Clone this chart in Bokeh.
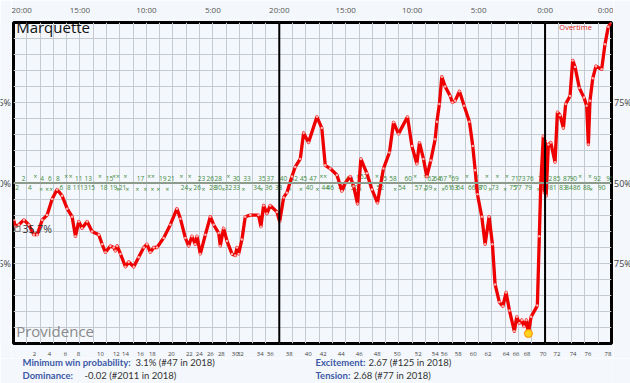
from bokeh.plotting import figure
from bokeh.models import (Range1d, LinearAxis, FixedTicker, Span, Label, ColumnDataSource)
from bokeh.layouts import column, row
from bokeh.core.properties import value
from bokeh.embed import file_html
from bokeh.resources import INLINE

# ---- data: game minute elapsed (0-45, OT after 40) and Marquette win probability (%)
t = [0.0, 0.15, 0.4, 0.78, 1.15, 1.53, 1.78, 2.16, 2.53, 2.91, 3.28, 3.66, 4.04, 4.41, 4.66,
     4.91, 5.16, 5.54, 5.91, 6.42, 6.67, 6.92, 7.29, 7.54, 7.67, 7.8, 8.05, 8.42, 8.67, 9.05,
     9.42, 9.8, 10.05, 10.3, 10.55, 10.8, 11.3, 11.8, 12.3, 12.56, 12.93, 13.18, 13.43, 13.68,
     13.81, 14.06, 14.44, 14.81, 15.06, 15.44, 15.56, 15.81, 16.07, 16.44, 16.69, 16.82, 16.94,
     17.19, 17.44, 17.82, 18.44, 18.62, 18.82, 19.07, 19.32, 19.82, 20.03, 20.33, 20.57, 20.95,
     21.2, 21.58, 21.83, 22.2, 22.83, 23.2, 23.46, 23.83, 24.34, 24.71, 24.96, 25.34, 25.59,
     25.89, 26.14, 26.59, 26.97, 27.39, 27.84, 28.29, 28.6, 28.97, 29.65, 29.98, 30.35, 30.55,
     30.85, 31.1, 31.4, 31.73, 31.86, 32.05, 32.23, 32.48, 32.86, 33.03, 33.23, 33.56, 33.91,
     34.31, 34.56, 34.74, 34.91, 35.24, 35.49, 35.79, 36.04, 36.24, 36.56, 36.82, 37.07, 37.32,
     37.69, 37.87, 38.07, 38.25, 38.42, 38.6, 38.75, 38.95, 39.42, 39.57, 39.68, 39.87, 39.95,
     40.02, 40.08, 40.25, 40.43, 40.75, 40.93, 41.13, 41.38, 41.55, 41.88, 42.08, 42.26, 42.58,
     42.93, 43.13, 43.26, 43.38, 43.59, 43.83, 44.26, 44.51, 44.76, 45.0]
prob = [38.5, 36.4, 37.0, 38.5, 37.0, 33.9, 33.9, 38.5, 40.0, 45.0, 48.0, 46.0, 42.0, 39.5, 33.4,
        38.0, 35.9, 38.0, 34.9, 33.9, 30.9, 28.4, 30.4, 29.9, 28.9, 30.4, 27.9, 23.9, 25.4, 23.9,
        26.9, 29.9, 30.9, 28.4, 29.9, 29.9, 32.9, 37.0, 42.0, 38.9, 32.9, 30.4, 33.4, 30.9,
        33.4, 27.9, 33.9, 39.5, 37.0, 34.4, 30.4, 35.9, 31.9, 27.9, 27.4, 29.9, 27.9,
        32.4, 39.5, 40.0, 40.0, 36.4, 43.0, 40.5, 43.0, 41.0, 38.0, 45.5, 47.0, 52.0,
        55.0, 57.5, 65.6, 62.6, 70.6, 67.1, 55.5, 54.5, 52.5, 47.5, 50.0, 52.0, 49.0,
        43.5, 57.5, 53.0, 48.0, 43.8, 54.5, 59.5, 68.9, 65.3, 70.6, 61.5, 56.0, 62.6,
        57.5, 52.0, 57.0, 63.6, 69.1, 74.6, 83.1, 80.1, 77.1, 75.1, 75.6, 78.6, 74.1,
        69.1, 61.5, 54.0, 46.5, 39.5, 30.9, 39.5, 30.9, 18.4, 12.9, 11.6, 15.9, 10.3,
        3.8, 8.3, 6.3, 7.3, 5.3, 7.3, 3.1, 8.3, 11.8, 33.4, 50.0, 64.6, 47.0,
        63.0, 46.0, 62.0, 62.6, 56.5, 72.1, 71.1, 67.1, 74.6, 77.1, 88.2, 86.1, 79.6,
        76.6, 74.1, 62.0, 75.6, 82.6, 86.4, 85.4, 93.2, 98.7, 100.0]

pregame_prob = 35.7
min_t, min_prob = 38.75, 3.1

clock_ticks = [0, 5, 10, 15, 20, 25, 30, 35, 40, 45]
clock_labels = ["20:00", "15:00", "10:00", "5:00", "20:00", "15:00", "10:00", "5:00", "0:00", "0:00"]
pct_ticks = [25, 50, 75]
pct_labels = ["75%", "50%", "75%"]

poss_t = [1.58, 2.71, 3.91, 4.89, 6.54, 7.74, 8.42, 9.55, 10.45, 11.88, 13.23, 13.98, 14.81, 15.64,
          16.69, 17.07, 18.57, 19.32, 20.75, 22.18, 23.31, 24.66, 26.02, 27.37, 28.87, 30.45,
          31.73, 32.41, 33.46, 34.59, 35.71, 37.07, 37.82, 38.65, 39.85, 40.90, 42.11, 43.23, 44.74]
poss_labels = [str(2 * (i + 1)) for i in range(len(poss_t))]

home_t = [0.77, 1.65, 2.16, 2.73, 3.33, 3.96, 4.29, 4.91, 5.62, 6.49, 7.22, 7.72, 8.42, 9.55, 10.35,
          11.23, 11.86, 12.63, 13.26, 14.14, 14.81, 15.41, 16.17, 16.77, 17.57, 18.7, 19.32, 20.32,
          21.13, 21.83, 22.53, 23.31, 24.36, 25.26, 26.22, 27.35, 27.84, 28.55, 29.7, 30.23, 30.98,
          31.43, 31.88, 32.33, 32.86, 33.23, 34.11, 34.86, 35.62, 36.41, 37.12, 37.74, 38.25, 38.87,
          39.75, 40.25, 40.88, 41.63, 42.13, 42.63, 43.38, 43.93, 44.89]
home_txt = ["2", "×", "4", "6", "8", "×", "×", "11", "13", "×", "15", "××", "×", "17", "××",
            "19", "21", "×", "×", "23", "26", "28", "×", "30", "33", "35", "37", "40",
            "42", "45", "47", "××", "×", "49", "×52", "×", "55", "58", "60", "×", "×",
            "62", "64", "67", "×", "69", "×", "×", "×", "×", "×", "71", "73", "76",
            "79", "82", "85", "87", "90", "×", "×", "92", "95"]
away_t = [0.28, 1.23, 2.08, 2.53, 2.83, 3.61, 4.16, 4.74, 5.29, 5.86, 6.79, 7.52, 7.86, 8.2, 8.57,
          9.32, 9.92, 10.45, 10.9, 11.58, 12.86, 13.3, 13.83, 14.29, 15.01, 15.41, 15.79, 16.17,
          16.77, 17.29, 18.32, 18.65, 19.2, 19.95, 20.77, 21.63, 22.28, 22.86, 23.46, 23.83, 24.71,
          25.64, 26.09, 27.59, 28.72, 29.23, 30.47, 30.98, 31.23, 31.73, 32.33, 32.71, 33.16, 33.61,
          34.49, 34.98, 35.34, 35.86, 36.24, 36.99, 37.59, 37.97, 38.74, 39.5, 40.0, 40.6, 41.35,
          41.8, 42.38, 43.14, 43.46, 44.26]
away_txt = ["2", "4", "×", "×", "×", "6", "8", "11", "13", "15", "18", "19", "×", "21", "×",
            "×", "×", "×", "×", "×", "24", "×", "26", "×", "28", "30", "×", "32",
            "33", "×", "34", "×", "36", "38", "×", "×", "40", "×", "44", "46", "48",
            "50", "×", "52", "×", "54", "57", "×", "59", "×", "×", "61", "63", "64",
            "66", "68", "70", "×", "73", "×", "75", "77", "79", "×", "80", "81", "83",
            "84", "86", "88", "×", "90"]

stat_keys = ["Minimum win probability:", "Dominance:", "Excitement:", "Tension:"]
stat_vals = ["3.1% (#47 in 2018)", "-0.02 (#2011 in 2018)", "2.67 (#125 in 2018)", "2.68 (#77 in 2018)"]

BG = "#f4f8fc"
FONT = "Open Sans"
TOP_B, BOT_B = 14, 12


def strip(width, height, xr, yr, bl=0, br=0, bt=0, bb=0):
    f = figure(width=width, height=height, output_backend="svg", toolbar_location=None,
               x_range=xr, y_range=yr, min_border_left=bl, min_border_right=br,
               min_border_top=bt, min_border_bottom=bb, x_axis_location=None, y_axis_location=None)
    f.background_fill_color = BG
    f.border_fill_color = BG
    f.outline_line_color = None
    f.xgrid.visible = False
    f.ygrid.visible = False
    return f


# ---- main figure
p = figure(width=602, height=358, output_backend="svg", toolbar_location=None,
           x_range=Range1d(0, 45), y_range=Range1d(0, 100),
           min_border_left=2, min_border_right=2, min_border_top=TOP_B, min_border_bottom=BOT_B,
           x_axis_location=None, y_axis_location=None)
p.background_fill_color = BG
p.border_fill_color = BG
p.outline_line_color = "black"
p.outline_line_width = 3

p.xgrid.ticker = FixedTicker(ticks=list(range(0, 46)))
p.ygrid.ticker = FixedTicker(ticks=list(range(0, 101, 5)))
for g in (p.xgrid, p.ygrid):
    g.grid_line_color = "#c4cad1"
    g.grid_line_width = 1

# top clock axis
top = LinearAxis(ticker=FixedTicker(ticks=clock_ticks),
                 major_label_overrides={k: v for k, v in zip(clock_ticks, clock_labels)})
top.major_tick_line_color = None
top.minor_tick_line_color = None
top.axis_line_color = None
top.major_label_text_font_size = "8px"
top.major_label_text_color = "#555555"
top.major_label_text_font = FONT
top.major_label_standoff = 2
p.add_layout(top, "above")

# bottom possession axis
bot = LinearAxis(ticker=FixedTicker(ticks=poss_t),
                 major_label_overrides={k: v for k, v in zip(poss_t, poss_labels)})
bot.major_tick_line_color = None
bot.minor_tick_line_color = None
bot.axis_line_color = None
bot.major_label_text_font_size = "6px"
bot.major_label_text_color = "#444444"
bot.major_label_text_font = FONT
bot.major_label_standoff = 2
p.add_layout(bot, "below")

# centre line and half/OT separators
p.add_layout(Span(location=50, dimension="width", line_color="#8d9b8d", line_width=2))
for loc in (20, 40):
    p.add_layout(Span(location=loc, dimension="height", line_color="black", line_width=2))

# score labels along the centre
hs = ColumnDataSource(dict(x=home_t, y=[50.7] * len(home_t), text=home_txt))
as_ = ColumnDataSource(dict(x=away_t, y=[49.5] * len(away_t), text=away_txt))
p.text(x="x", y="y", text="text", source=hs, text_font_size="6.5px", text_color="#3f8a3f",
       text_align="center", text_baseline="bottom", text_font=value(FONT))
p.text(x="x", y="y", text="text", source=as_, text_font_size="6.5px", text_color="#3f8a3f",
       text_align="center", text_baseline="top", text_font=value(FONT))

# win-probability line
p.line(t, prob, line_color="#ee0000", line_width=3.3, line_join="round")
p.scatter(t, prob, size=2.5, fill_color="#ffb3b3", line_color=None)
p.scatter([min_t], [min_prob], size=8, fill_color="#ffd21f", line_color="#ff8c00", line_width=1)

# pregame marker
p.scatter([0.3], [pregame_prob], marker="square", size=5, fill_color=None, line_color="#777777")
p.add_layout(Label(x=0.68, y=pregame_prob, text=f"{pregame_prob}%", text_baseline="middle",
                   text_font_size="10.5px", text_color="#333333", text_font=FONT))

# team names and overtime
p.add_layout(Label(x=0.2, y=95.6, text="Marquette", text_font_size="15px", text_color="#111111",
                   text_font=FONT))
p.add_layout(Label(x=0.2, y=0.9, text="Providence", text_font_size="15px", text_color="#8a8a8a",
                   text_font=FONT))
p.add_layout(Label(x=42.3, y=97.0, text="Overtime", text_align="center", text_font_size="7.5px",
                   text_color="#dd2222", text_font=FONT))

# ---- side strips with percent labels (left ones run past the page edge, as in the original)
left = strip(11, 358, Range1d(0, 11), Range1d(0, 100), bt=TOP_B, bb=BOT_B)
left.text(x=[10.5] * 3, y=pct_ticks, text=pct_labels, text_align="right", text_baseline="middle",
          text_font=value(FONT), text_font_size="9px", text_color="#444444")
right = strip(17, 358, Range1d(0, 17), Range1d(0, 100), bt=TOP_B, bb=BOT_B)
right.text(x=[0.5] * 3, y=pct_ticks, text=pct_labels, text_align="left", text_baseline="middle",
           text_font=value(FONT), text_font_size="9px", text_color="#444444")

# ---- stats strip below (x in page pixels)
s = strip(630, 25, Range1d(13, 611), Range1d(0, 25), bl=13, br=19)
key_x = [22, 22, 315, 315]
val_x = [135, 84, 368, 353]
row_y = [21, 8, 21, 8]
s.text(x=key_x, y=row_y, text=stat_keys, text_font=value("Lato"), text_font_size="9.5px",
       text_font_style="bold", text_color="#3d58a6", text_baseline="middle")
s.text(x=val_x, y=row_y, text=stat_vals, text_font=value("Lato"), text_font_size="9.5px",
       text_color="#333333", text_baseline="middle")

layout = column(row(left, p, right, spacing=0), s, spacing=0)
open("out.html", "w").write(file_html(layout, INLINE))
